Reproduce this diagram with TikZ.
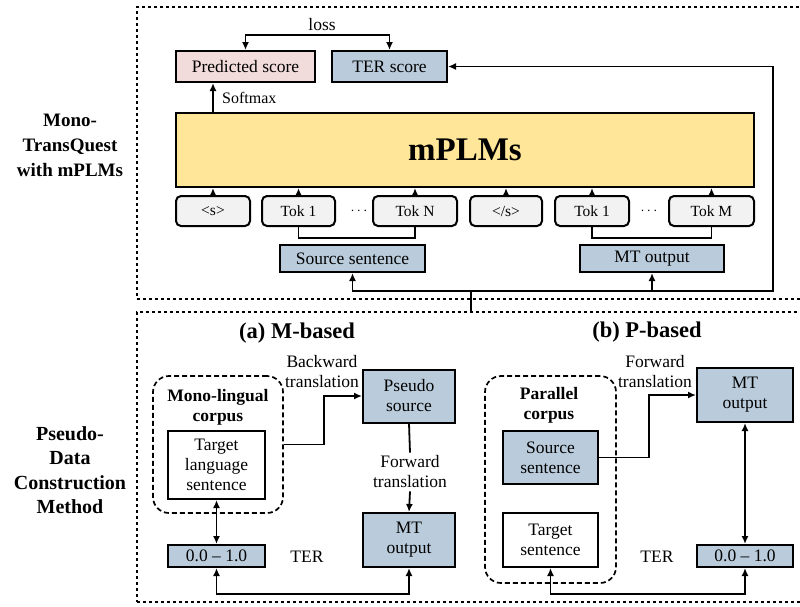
\documentclass[tikz,border=0pt]{standalone}
\usepackage{fontspec}
\setmainfont{Liberation Serif}
\usepackage{tikz}
\usetikzlibrary{positioning, calc, arrows.meta}
\definecolor{mypink}{HTML}{F2DCDB}
\definecolor{myblue}{HTML}{BACCDC}
\definecolor{myyellow}{HTML}{FFE699}
\definecolor{mygray}{HTML}{F2F2F2}
\newcommand{\boxfont}{\fontsize{17.5}{20}\selectfont}
\newcommand{\tokfont}{\fontsize{15.5}{18}\selectfont}
\newcommand{\headfont}{\fontsize{22.5}{26}\selectfont\bfseries}
\newcommand{\bigfont}{\fontsize{33}{38}\selectfont\bfseries}
\tikzset{
	basebox/.style={
			draw=black,
			line width=2pt,
			inner sep=0pt,
			align=center,
			font=\boxfont
		},
	scorebox/.style={
			basebox,
			minimum height=31pt
		},
	tokbox/.style={
			basebox,
			rounded corners=5pt,
			fill=mygray,
			minimum height=30pt,
			font=\tokfont
		},
	bluebox/.style={
			basebox,
			fill=myblue
		},
	whitebox/.style={
			basebox,
			fill=white
		},
	groupbox/.style={
			draw=black,
			line width=1.7pt,
			dash pattern=on 5pt off 3pt,
			rounded corners=16pt
		},
	framebox/.style={
			draw=black,
			line width=2.6pt,
			dash pattern=on 2.6pt off 3.4pt
		},
	plaintext/.style={
			inner sep=3pt,
			align=center,
			font=\boxfont
		},
	sidelabel/.style={
			inner sep=0pt,
			align=center
		},
	wire/.style={
			line width=1.8pt
		},
	link/.style={
			wire,
			-{Latex[length=8pt,width=7pt]}
		},
	dlink/.style={
			wire,
			{Latex[length=8pt,width=7pt]}-{Latex[length=8pt,width=7pt]}
		}
}

\begin{document}
\begin{tikzpicture}[x=1pt, y=-1pt]
\useasboundingbox (0,0) rectangle (800,606);

\node[framebox, minimum width=668pt, minimum height=292pt] (qeFrame) at (471,153) {};
\node[framebox, minimum width=668pt, minimum height=290pt] (pdFrame) at (471,457) {};

\node[sidelabel, font=\fontsize{19}{25}\selectfont\bfseries] (qeLabel) at (70,145) {Mono-\\TransQuest\\with mPLMs};
\node[sidelabel, font=\fontsize{20}{24.5}\selectfont\bfseries] (pdLabel) at (70,470) {Pseudo-\\Data\\Construction\\Method};

\node[scorebox, fill=mypink, minimum width=139pt] (pScore) at (245.5,66.5) {Predicted score};
\node[scorebox, fill=myblue, minimum width=115pt] (tScore) at (389.5,66.5) {TER score};
\node[plaintext] (loss) at (322,25) {loss};

\node[basebox, fill=myyellow, minimum width=578pt, minimum height=74pt, font=\bigfont] (mplm) at (465,150) {mPLMs};

\node[tokbox, minimum width=74pt] (tkS) at (213,211) {<s>};
\node[tokbox, minimum width=73pt] (tkA1) at (298.5,211) {Tok 1};
\node[plaintext, font=\tokfont] (dotsA) at (359,211) {$\cdots$};
\node[tokbox, minimum width=84pt] (tkAN) at (415,211) {Tok N};
\node[tokbox, minimum width=72pt] (tkE) at (506,211) {</s>};
\node[tokbox, minimum width=74pt] (tkB1) at (592,211) {Tok 1};
\node[plaintext, font=\tokfont] (dotsB) at (649,211) {$\cdots$};
\node[tokbox, minimum width=85pt] (tkBM) at (711.5,211) {Tok M};

\node[bluebox, minimum width=145pt, minimum height=27pt] (srcTop) at (352.5,258.5) {Source sentence};
\node[bluebox, minimum width=144pt, minimum height=27pt] (mtTop) at (652,258.5) {MT output};

\node[plaintext, anchor=west, font=\fontsize{16}{18}\selectfont] (softmax) at (219,98) {Softmax};

\draw[dlink] (pScore.north) -- ++(0,-15) -| (tScore.north);
\draw[link] (tkS.north |- mplm.north) -- (tkS.north |- pScore.south);
\draw[link] (tkS.north) -- (tkS.north |- mplm.south);
\draw[link] (tkA1.north) -- (tkA1.north |- mplm.south);
\draw[link] (tkAN.north) -- (tkAN.north |- mplm.south);
\draw[link] (tkE.north) -- (tkE.north |- mplm.south);
\draw[link] (tkB1.north) -- (tkB1.north |- mplm.south);
\draw[link] (tkBM.north) -- (tkBM.north |- mplm.south);
\draw[wire] (tkA1.south) -- ++(0,11) -| (tkAN.south);
\draw[wire] (tkB1.south) -- ++(0,11) -| (tkBM.south);

\coordinate (split) at (471,291);
\coordinate (turn) at (773,291);
\draw[wire] (pdFrame.north -| split) -- (split);
\draw[link] (split) -| (srcTop.south);
\draw[link] (split) -| (mtTop.south);
\draw[link] (split) -- (turn) |- (tScore.east);

\node[plaintext, font=\headfont] (headA) at (297,333) {(a) M-based};
\node[plaintext] (backA) at (322,372) {Backward\\translation};
\node[groupbox, minimum width=130pt, minimum height=137pt] (monoGroup) at (218,444.5) {};
\node[plaintext, font=\boxfont\bfseries] (monoTitle) at (218,407) {Mono-lingual\\corpus};
\node[whitebox, minimum width=97pt, minimum height=68pt] (tgtLang) at (216.5,465) {Target\\language\\sentence};
\node[bluebox, minimum width=92pt, minimum height=53pt] (pseudoSrc) at (409,396) {Pseudo\\source};
\node[plaintext] (fwdA) at (410,472) {Forward\\translation};
\node[bluebox, minimum width=92pt, minimum height=54pt] (mtA) at (409,540) {MT\\output};
\node[bluebox, minimum width=97pt, minimum height=22pt] (scoreA) at (216.5,556) {0.0 -- 1.0};
\node[plaintext] (terA) at (307,557) {TER};

\draw[link] (monoGroup.east) -- ++(40,0) |- (pseudoSrc.west);
\draw[wire] (pseudoSrc.south) -- (fwdA.north);
\draw[link] (fwdA.south) -- (mtA.north);
\draw[dlink] (tgtLang.south) -- (scoreA.north);
\draw[dlink] (scoreA.south) -- ++(0,26) -| (mtA.south);

\node[plaintext, font=\headfont] (headB) at (647,332) {(b) P-based};
\node[plaintext] (fwdB) at (655,372) {Forward\\translation};
\node[groupbox, minimum width=131pt, minimum height=207pt] (paraGroup) at (550.5,479.5) {};
\node[plaintext, font=\boxfont\bfseries] (paraTitle) at (549,405) {Parallel\\corpus};
\node[bluebox, minimum width=95pt, minimum height=53pt] (srcB) at (550.5,457.5) {Source\\sentence};
\node[whitebox, minimum width=95pt, minimum height=54pt] (tgtB) at (550.5,540) {Target\\sentence};
\node[bluebox, minimum width=96pt, minimum height=54pt] (mtB) at (745,395) {MT\\output};
\node[bluebox, minimum width=96pt, minimum height=22pt] (scoreB) at (745,556) {0.0 -- 1.0};
\node[plaintext] (terB) at (657,557) {TER};

\draw[link] (srcB.east) -- ++(50,0) |- (mtB.west);
\draw[dlink] (mtB.south) -- (scoreB.north);
\draw[dlink] (tgtB.south) -- ++(0,26) -| (scoreB.south);

\end{tikzpicture}
\end{document}
